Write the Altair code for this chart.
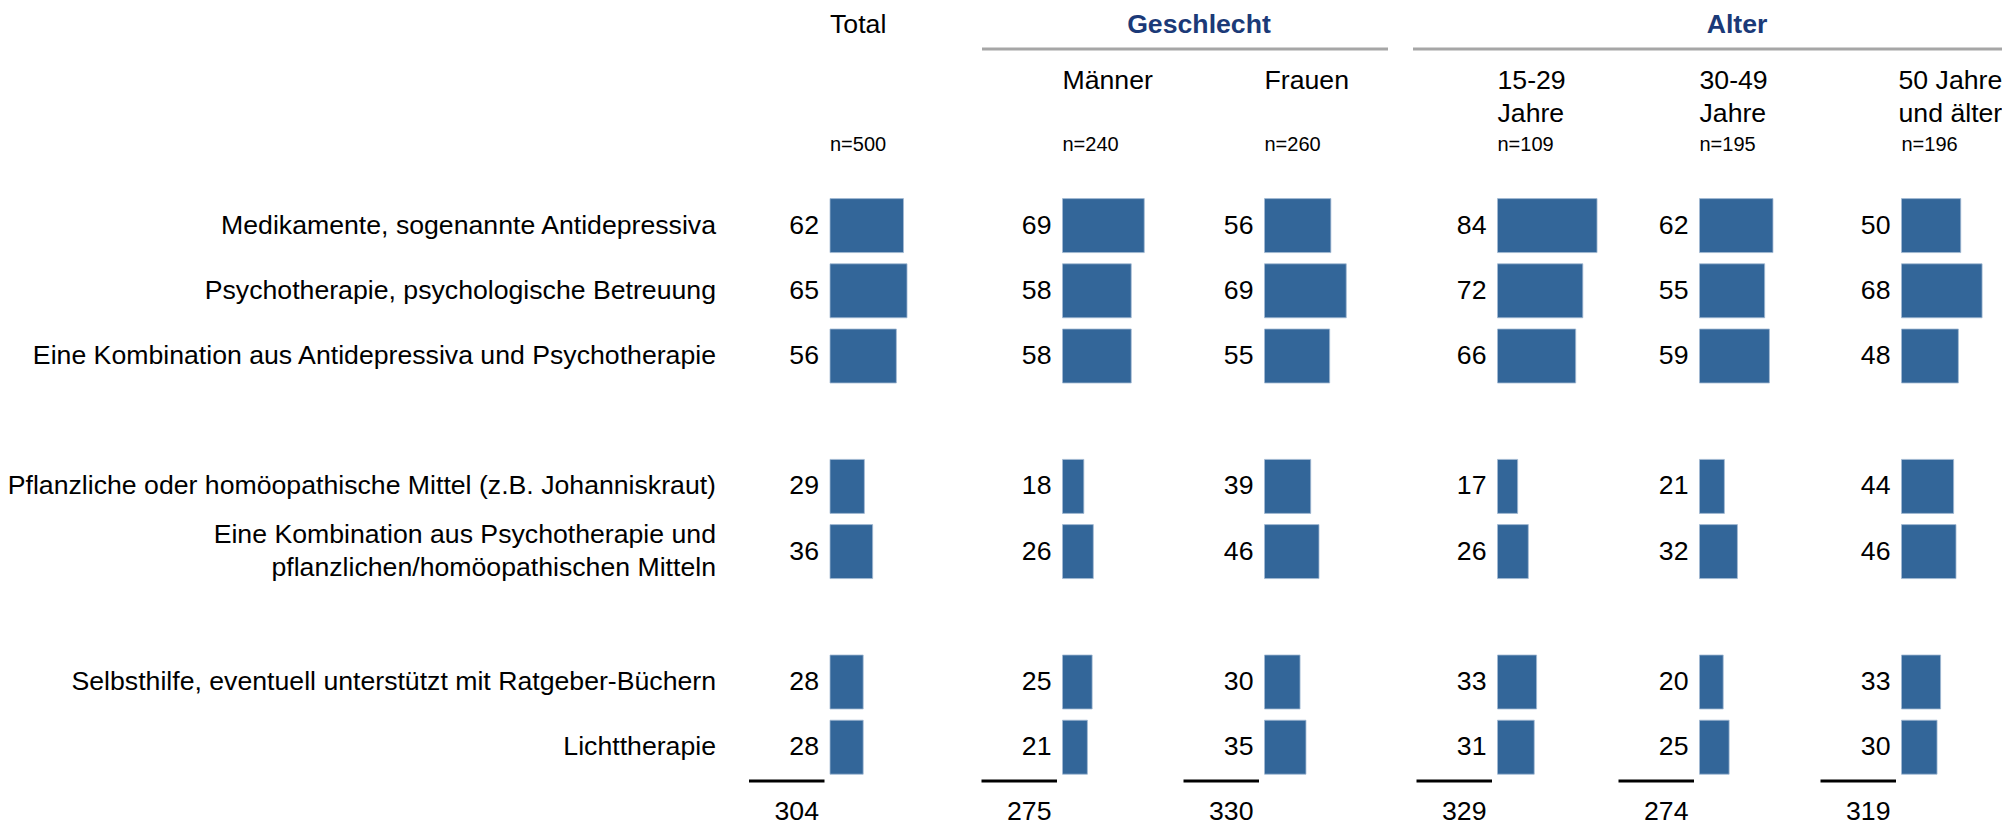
import altair as alt
import pandas as pd

# ---------------- data ----------------
row_labels = [
    "Medikamente, sogenannte Antidepressiva",
    "Psychotherapie, psychologische Betreuung",
    "Eine Kombination aus Antidepressiva und Psychotherapie",
    "Pflanzliche oder homöopathische Mittel (z.B. Johanniskraut)",
    "Eine Kombination aus Psychotherapie und\npflanzlichen/homöopathischen Mitteln",
    "Selbsthilfe, eventuell unterstützt mit Ratgeber-Büchern",
    "Lichttherapie",
]
row_slots = [0, 1, 2, 4, 5, 7, 8]

columns = ["Total", "Männer", "Frauen", "15-29\nJahre", "30-49\nJahre", "50 Jahre\nund älter"]
n_values = [500, 240, 260, 109, 195, 196]
column_sums = [304, 275, 330, 329, 274, 319]

total_vals = [62, 65, 56, 29, 36, 28, 28]
maenner_vals = [69, 58, 58, 18, 26, 25, 21]
frauen_vals = [56, 69, 55, 39, 46, 30, 35]
age1529_vals = [84, 72, 66, 17, 26, 33, 31]
age3049_vals = [62, 55, 59, 21, 32, 20, 25]
age50_vals = [50, 68, 48, 44, 46, 33, 30]
series = [total_vals, maenner_vals, frauen_vals, age1529_vals, age3049_vals, age50_vals]

group_titles = ["Geschlecht", "Alter"]

# ---------------- layout ----------------
PX = 1.185          # pixels per percentage point
W, H = 1994, 819
FONT = "Liberation Sans"
BAR = "#336699"
LINE_H = 33


def u(px_page):
    return (px_page - 8) / PX


bar_left = [830, 1062.5, 1264.5, 1497.5, 1699.5, 1901.5]
xscale = alt.Scale(domain=[0, W / PX], range=[0, W], nice=False, zero=False)
yscale = alt.Scale(domain=list(range(9)), range=[185, 771.8], paddingInner=0.172, paddingOuter=0.086)

recs = []
for ci, vals in enumerate(series):
    for ri, v in enumerate(vals):
        recs.append({"col": columns[ci], "slot": row_slots[ri], "value": v,
                     "start": u(bar_left[ci]), "end": u(bar_left[ci]) + v})
bars_df = pd.DataFrame(recs)

lab_df = pd.DataFrame({"label": row_labels, "slot": row_slots, "x": [u(716)] * len(row_labels)})
lab_df["multi"] = lab_df["label"].str.contains("\n")

col_df = pd.DataFrame({
    "col": columns,
    "n": [f"n={n}" for n in n_values],
    "sum": [str(s) for s in column_sums],
    "x": [u(b) for b in bar_left],
    "lx": [u(b - 81) for b in bar_left],
    "lx2": [u(b - 5.5) for b in bar_left],
})

X = lambda f: alt.X(f"{f}:Q", scale=xscale, axis=None)
Y = alt.Y("slot:O", scale=yscale, axis=None)

bars = alt.Chart(bars_df).mark_bar(color=BAR, stroke="#a3bad3", strokeWidth=0.8).encode(
    x=X("start"), x2="end:Q", y=Y)

vals_txt = alt.Chart(bars_df).mark_text(align="right", baseline="middle", dx=-11,
                                         font=FONT, fontSize=26.67, color="black").encode(
    x=X("start"), y=Y, text="value:Q")

labels_single = alt.Chart(lab_df[~lab_df["multi"]]).mark_text(
    align="right", baseline="middle", font=FONT, fontSize=26.67, color="black").encode(
    x=X("x"), y=Y, text="label:N")

labels_multi = alt.Chart(lab_df[lab_df["multi"]]).mark_text(
    align="right", baseline="middle", font=FONT, fontSize=26.67, lineBreak="\n",
    lineHeight=LINE_H, dy=-LINE_H / 2, color="black").encode(
    x=X("x"), y=Y, text="label:N")

top_df = col_df.iloc[[0]]
total_hdr = alt.Chart(top_df).mark_text(align="left", baseline="alphabetic", font=FONT,
                                         fontSize=26.67, color="black").encode(
    x=X("x"), y=alt.value(25), text="col:N")

sub_style = dict(align="left", baseline="alphabetic", font=FONT, fontSize=26.67,
                 lineBreak="\n", lineHeight=LINE_H, color="black")
sub_hdr = alt.Chart(col_df.iloc[1:5]).mark_text(**sub_style).encode(
    x=X("x"), y=alt.value(81), text="col:N")
# last column header sits right at the page edge; nudge it slightly left
sub_hdr_last = alt.Chart(col_df.iloc[5:]).mark_text(dx=-3, **sub_style).encode(
    x=X("x"), y=alt.value(81), text="col:N")

n_txt = alt.Chart(col_df).mark_text(align="left", baseline="alphabetic", font=FONT,
                                     fontSize=20, color="black").encode(
    x=X("x"), y=alt.value(143), text="n:N")

sum_txt = alt.Chart(col_df).mark_text(align="right", baseline="alphabetic", dx=-11, font=FONT,
                                       fontSize=26.67, color="black").encode(
    x=X("x"), y=alt.value(812), text="sum:N")

black_rules = alt.Chart(col_df).mark_rule(color="black", strokeWidth=3).encode(
    x=X("lx"), x2="lx2:Q", y=alt.value(773))

grp_df = pd.DataFrame({
    "title": group_titles,
    "cx": [u(1199), u(1737)],
    "x1": [u(982), u(1413)],
    "x2": [u(1388), u(2010)],
})
grp_txt = alt.Chart(grp_df).mark_text(align="center", baseline="alphabetic", font=FONT,
                                       fontSize=26.67, fontWeight="bold", color="#1B3A78").encode(
    x=X("cx"), y=alt.value(25), text="title:N")
grp_rules = alt.Chart(grp_df).mark_rule(color="#A6A6A6", strokeWidth=3).encode(
    x=X("x1"), x2="x2:Q", y=alt.value(41))

chart = alt.layer(
    bars, vals_txt, labels_single, labels_multi, total_hdr, sub_hdr, sub_hdr_last, n_txt,
    sum_txt, black_rules, grp_txt, grp_rules
).properties(
    width=W, height=H, padding=0, autosize="none", background="white"
).configure_view(stroke=None)

chart.save("out.html", embed_options={"renderer": "svg", "actions": False})
